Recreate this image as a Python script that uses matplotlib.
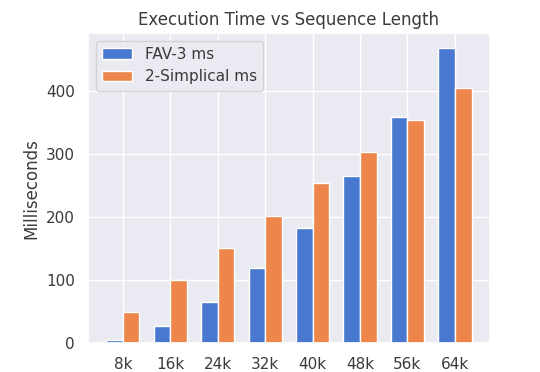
import numpy as np
import matplotlib
matplotlib.use("Agg")
import matplotlib.pyplot as plt
import seaborn as sns

seq_lengths = ["8k", "16k", "24k", "32k", "40k", "48k", "56k", "64k"]
fav3_ms = [5, 28, 66, 120, 183, 265, 359, 469]
simplical_ms = [50, 101, 151, 202, 255, 304, 354, 406]

sns.set_theme(style="darkgrid")
plt.rcParams['font.family'] = ['DejaVu Sans']
# the screenshot text reads a bit grey
for key in ['text.color', 'axes.labelcolor', 'xtick.color', 'ytick.color']:
    plt.rcParams[key] = '#3a3a3a'

fig, ax = plt.subplots(figsize=(5.4, 3.72), dpi=100)
fig.subplots_adjust(left=0.163, right=0.907, top=0.911, bottom=0.077)

x = np.arange(len(seq_lengths))
width = 0.35
ax.bar(x - width / 2, fav3_ms, width, label="FAV-3 ms", color="#4878d0")
ax.bar(x + width / 2, simplical_ms, width, label="2-Simplical ms", color="#ee854a")

ax.set_xticks(x)
ax.set_xticklabels(seq_lengths)
ax.set_ylabel("Milliseconds")
ax.set_title("Execution Time vs Sequence Length")
ax.legend(loc="upper left")

fig.savefig("out.png", dpi=100)
